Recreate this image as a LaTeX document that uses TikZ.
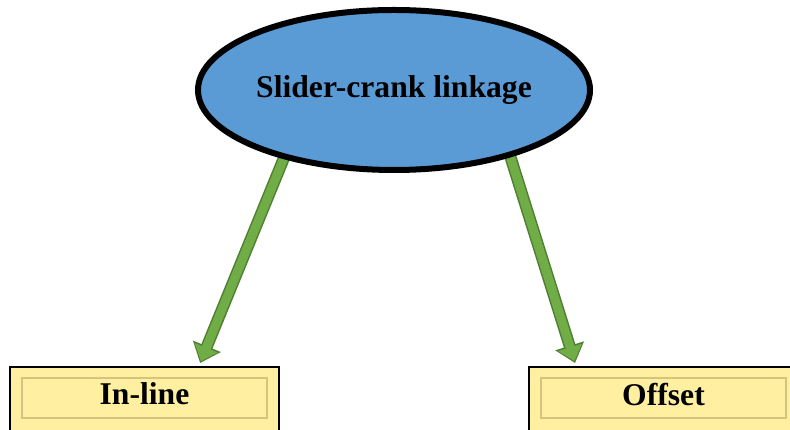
\documentclass[tikz,border=0pt]{standalone}
\usepackage{fontspec}
\setmainfont{Liberation Serif}
\usetikzlibrary{shapes.geometric, arrows.meta, positioning, backgrounds}

\definecolor{topblue}{HTML}{5B9BD5}
\definecolor{kindfill}{HTML}{FFEFA0}
\definecolor{kindrim}{HTML}{D8C27E}
\definecolor{arrowfill}{HTML}{70AD47}
\definecolor{arrowrim}{HTML}{507E32}

\begin{document}
\begin{tikzpicture}[
    top/.style={ellipse, draw, line width=0.15cm, fill=topblue, minimum width=9.8cm, minimum height=4cm, inner sep=0pt, font=\bfseries\fontsize{22.5}{27}\selectfont},
    kind/.style={rectangle, draw, line width=0.05cm, fill=kindfill, minimum width=6.725cm, minimum height=1.65cm, text depth=0.3cm, font=\bfseries\fontsize{22.5}{27}\selectfont,
        path picture={\draw[kindrim, line width=0.04cm] ([shift={(0.3cm,-0.28cm)}]path picture bounding box.north west) rectangle ([shift={(-0.3cm,0.37cm)}]path picture bounding box.south east);}},
    arrow/.style={draw=arrowfill, line width=0.225cm, shorten <=-0.3cm, shorten >=0.05cm, -{Triangle[length=0.36cm, width=0.6cm]},
        preaction={draw=arrowrim, line width=0.3cm, shorten >=0cm, -{Triangle[length=0.45cm, width=0.725cm]}}}
]
\useasboundingbox (0,0) rectangle (19.75,10.75);
\node[top] (sc) at (9.85,8.5) {Slider-crank linkage};
\node[kind] (il) at (3.6125,0.75) {In-line};
\node[kind, right=6.2cm of il] (os) {Offset};
\begin{scope}[on background layer]
\draw[arrow] (sc.212) -- ([xshift=1.39cm, yshift=0.075cm]il.north);
\draw[arrow] (sc.330) -- ([xshift=-2.2125cm, yshift=0.075cm]os.north);
\end{scope}
\end{tikzpicture}
\end{document}
